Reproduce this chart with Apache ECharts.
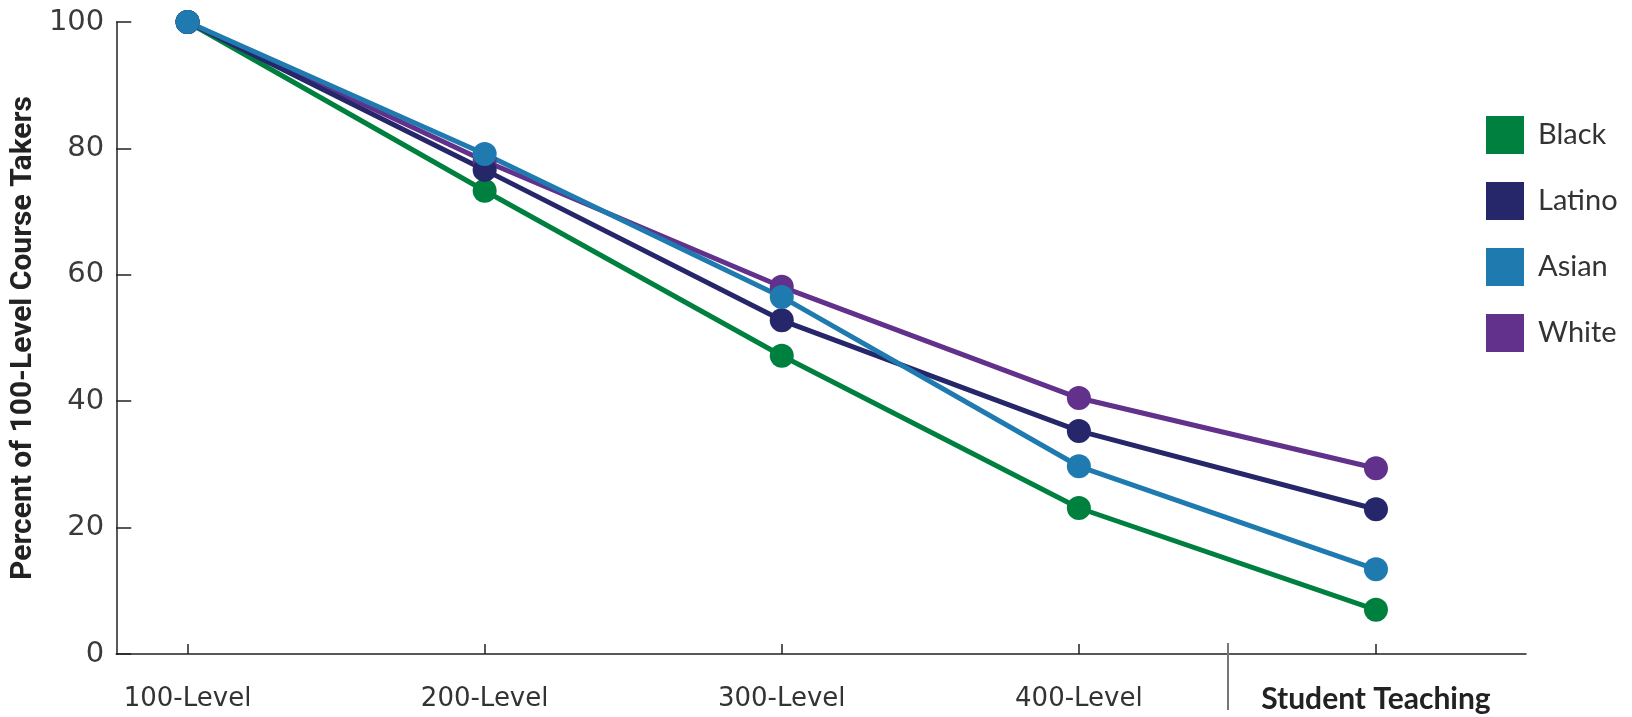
<!DOCTYPE html>
<html>
<head>
<meta charset="utf-8">
<script src="https://cdn.jsdelivr.net/npm/echarts@6/dist/echarts.min.js"></script>
<style>
html,body{margin:0;padding:0;background:#fff;}
#chart{width:1632px;height:717px;}
</style>
</head>
<body>
<div id="chart"></div>
<script>
const categories = ['100-Level', '200-Level', '300-Level', '400-Level', 'Student Teaching'];
const yTicks = [0, 20, 40, 60, 80, 100];
const black  = [100, 73.3, 47.2, 23.1, 7.0];
const latino = [100, 76.6, 52.8, 35.3, 22.9];
const asian  = [100, 79.1, 56.5, 29.7, 13.4];
const white  = [100, 78.0, 58.1, 40.5, 29.4];
const separatorAt = [3.5];

const colors = { Black: '#00803F', Latino: '#26266A', Asian: '#1F7BAF', White: '#62318C' };
const seriesData = [
  ['Black', black], ['White', white], ['Latino', latino], ['Asian', asian]
];
const catIdx = categories.map((c, i) => i);

const chart = echarts.init(document.getElementById('chart'), null, { renderer: 'canvas' });
const xRange = { min: -0.24, max: 4.505 };
const tickFont = 'DejaVu Sans';

const option = {
  animation: false,
  backgroundColor: '#fff',
  grid: { left: 112, right: 106, top: 22, bottom: 63, containLabel: false },
  legend: {
    orient: 'vertical',
    left: 1481, top: 111,
    itemWidth: 38, itemHeight: 38, itemGap: 28,
    icon: 'rect',
    data: ['Black', 'Latino', 'Asian', 'White'],
    textStyle: { fontFamily: 'Lato', fontSize: 29, color: '#333', padding: [0, 0, 0, 9] }
  },
  xAxis: [
    {
      type: 'value', ...xRange, position: 'bottom',
      axisLine: { show: true, lineStyle: { color: '#222', width: 1.5 } },
      splitLine: { show: false },
      axisTick: { show: true, inside: true, length: 10, customValues: catIdx, lineStyle: { color: '#222', width: 1.5 } },
      axisLabel: {
        customValues: catIdx, margin: 32,
        fontFamily: tickFont, fontSize: 26, color: '#333', lineHeight: 26,
        formatter: v => {
          const i = Math.round(v);
          return i === categories.length - 1 ? '{b|' + categories[i] + '}' : categories[i];
        },
        rich: { b: { fontFamily: 'Lato', fontWeight: 'bold', fontSize: 30, lineHeight: 26, color: '#222' } }
      }
    },
    {
      type: 'value', ...xRange, position: 'bottom', gridIndex: 0,
      axisLine: { show: false }, splitLine: { show: false },
      axisLabel: { show: false },
      axisTick: { show: true, inside: true, length: 11, customValues: separatorAt, lineStyle: { color: '#777', width: 2 } }
    },
    {
      type: 'value', ...xRange, position: 'bottom', gridIndex: 0,
      axisLine: { show: false }, splitLine: { show: false },
      axisLabel: { show: false },
      axisTick: { show: true, inside: false, length: 56, customValues: separatorAt, lineStyle: { color: '#777', width: 2 } }
    }
  ],
  yAxis: {
    type: 'value', min: 0, max: 100, interval: 20,
    name: 'Percent of 100-Level Course Takers',
    nameLocation: 'middle', nameRotate: 90, nameGap: 71,
    nameTextStyle: { fontFamily: 'Roboto', fontWeight: 'bold', fontSize: 30, color: '#222' },
    axisLine: { show: true, onZero: false, lineStyle: { color: '#222', width: 1.5 } },
    axisTick: { show: true, inside: true, length: 15, lineStyle: { color: '#222', width: 1.5 } },
    splitLine: { show: false },
    axisLabel: { margin: 12, fontFamily: tickFont, fontSize: 29, color: '#3a3a3a',
      customValues: yTicks }
  },
  series: seriesData.map(([name, vals]) => ({
    name, type: 'line',
    xAxisIndex: 0,
    data: vals.map((v, i) => [catIdx[i], v]),
    symbol: 'circle', symbolSize: 24,
    itemStyle: { color: colors[name] },
    lineStyle: { color: colors[name], width: 5 },
    z: 2
  }))
};
chart.setOption(option);
</script>
</body>
</html>
